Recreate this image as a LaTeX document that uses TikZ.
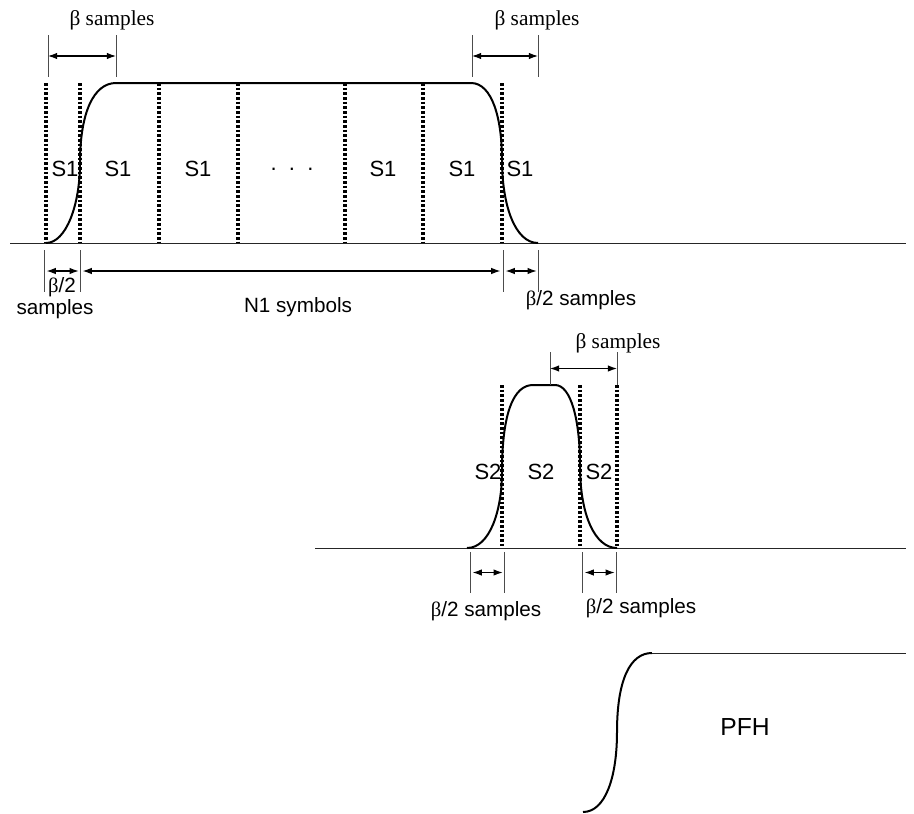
\documentclass[tikz,border=0pt]{standalone}
\usepackage{fontspec}
\setmainfont{Liberation Sans}
\newfontfamily\tms{Liberation Serif}
\usetikzlibrary{arrows.meta,calc}

\begin{document}
\begin{tikzpicture}[x=0.75pt,y=-0.75pt,font=\fontsize{15.5}{17}\selectfont,
  >={Latex[length=2.4mm,width=1.7mm]},
  base/.style={line width=0.7pt,black!85},
  pulse/.style={line width=1.5pt},
  sym/.style={line width=2.4pt,dash pattern=on 2pt off 1.5pt},
  tick/.style={line width=0.5pt,gray!60!black},
  dim/.style={<->,line width=0.8pt},
  lbl/.style={inner sep=1pt},
  slbl/.style={inner sep=1pt,font=\fontsize{16.5}{18}\selectfont},
  rm/.style={inner sep=1pt,font=\tms\fontsize{16}{18}\selectfont}]
\useasboundingbox (0,0) rectangle (914,814);

% --- N1 symbols of S1 ---
\draw[base] (10,243) -- (906,243);
\foreach \x in {46,80,159,238,345,423,502}
  \draw[sym] (\x,83) -- (\x,243);
\draw[pulse] (46,243) .. controls (66,243) and (80,205) .. (80,163)
  .. controls (80,112) and (94,83) .. (116,83) -- (471,83)
  .. controls (492,83) and (502,118) .. (502,160)
  .. controls (502,205) and (515,243) .. (538,243);
\foreach \x/\t [count=\i] in {65/S1,118/S1,198/S1,292/{.\ \ .\ \ .},383/S1,462/S1,520/S1}
  \node[slbl] (s1\i) at (\x,169) {\t};

\foreach \n/\x/\ya/\yb in {ta/48/35/77,tb/116/35/77,tc/472/35/77,td/538/35/77,
    ba/44/250/292,bb/80/250/292,bc/503/250/292,bd/538/250/292}{
  \coordinate (\n1) at (\x,\ya); \coordinate (\n2) at (\x,\yb);
  \coordinate (\n) at ($(\n1)!0.5!(\n2)$);
  \draw[tick] (\n1) -- (\n2);}
\draw[dim] (ta) -- (tb);
\draw[dim] (tc) -- (td);
\draw[dim] ([xshift=2pt]ba) -- ([xshift=-1pt]bb);
\draw[dim] ([xshift=2pt]bb) -- ([xshift=-2pt]bc);
\draw[dim] ([xshift=2pt]bc) -- ([xshift=-1pt]bd);
\node[rm] (beta1) at (112,20) {β samples};
\node[rm] (beta2) at (537,20) {β samples};
\node[lbl] (half1) at (62,287) {{\tms β}/2};
\node[lbl] (smp1) at (55,309) {samples};
\node[lbl] (n1) at (298,307) {N1 symbols};
\node[lbl] (half2) at (581,300) {{\tms β}/2 samples};

% --- S2 ---
\draw[base] (315,548) -- (906,548);
\foreach \x in {502,580,617}
  \draw[sym] (\x,385) -- (\x,548);
\draw[pulse] (467,548) .. controls (490,548) and (502,510) .. (502,472)
  .. controls (502,412) and (514,385) .. (533,385) -- (555,385)
  .. controls (571,385) and (580,420) .. (580,466)
  .. controls (580,515) and (595,548) .. (617,548);
\foreach \x [count=\i] in {488,541,599}
  \node[slbl] (s2\i) at (\x,472) {S2};
\foreach \n/\x/\ya/\yb in {ma/550/352/385,mb/617/352/385,
    na/470/552/593,nb/504/552/593,nc/582/552/593,nd/616/552/593}{
  \coordinate (\n1) at (\x,\ya); \coordinate (\n2) at (\x,\yb);
  \coordinate (\n) at ($(\n1)!0.5!(\n2)$);
  \draw[tick] (\n1) -- (\n2);}
\draw[dim] (ma) -- (mb);
\draw[dim] ([xshift=2pt]na) -- ([xshift=-1pt]nb);
\draw[dim] ([xshift=2pt]nc) -- ([xshift=-1pt]nd);
\node[rm] (beta3) at (618,343) {β samples};
\node[lbl] (half3) at (486,611) {{\tms β}/2 samples};
\node[lbl] (half4) at (641,608) {{\tms β}/2 samples};

% --- PFH ---
\draw[pulse] (583,812) .. controls (605,812) and (617,778) .. (617,732)
  .. controls (617,680) and (630,653) .. (652,653);
\draw[base] (652,653) -- (906,653);
\node[lbl,font=\fontsize{18.5}{20}\selectfont] (pfh) at (745,727) {PFH};
\end{tikzpicture}
\end{document}
